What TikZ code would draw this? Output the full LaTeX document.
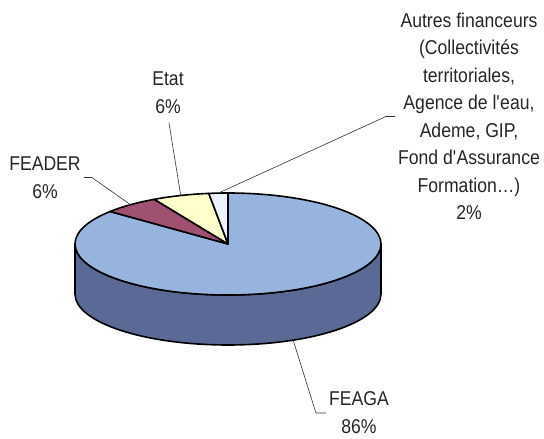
\documentclass[tikz,border=0pt]{standalone}
\usepackage{fontspec}
\setmainfont[FakeStretch=0.88]{Liberation Sans}
\usetikzlibrary{calc}

\definecolor{feagatop}{RGB}{150,180,222}
\definecolor{feagaside}{RGB}{90,105,150}
\definecolor{feadercol}{RGB}{160,80,112}
\definecolor{etatcol}{RGB}{255,255,204}
\definecolor{autrescol}{RGB}{236,245,255}

\begin{document}
\begin{tikzpicture}[line cap=round,line join=round,x=1pt,y=1pt,
    slice/.style={draw=black,line width=1.6pt},
    leader/.style={draw=black!80,line width=0.6pt},
    lbl/.style={align=center,inner sep=3pt,text=black!85,font=\fontsize{20}{28}\selectfont}]
      \useasboundingbox (0,0) rectangle (544,439);

      % Centres of the top face and of the bottom face
      \coordinate (c) at (228,195);
      \coordinate (cb) at (228,145);

      % Side of the pie (front half)
      \draw[slice,fill=feagaside] ($(c)+(180:153 and 51)$)
        arc[start angle=180,end angle=360,x radius=153,y radius=51]
        -- ($(cb)+(0:153 and 51)$)
        arc[start angle=360,end angle=180,x radius=153,y radius=51] -- cycle;

      % Top face slices (FEAGA 86%, FEADER 6%, Etat 6%, Autres 2%)
      \draw[slice,fill=feagatop] (c) -- ($(c)+(140.4:153 and 51)$)
        arc[start angle=140.4,end angle=450,x radius=153,y radius=51] -- cycle;
      \draw[slice,fill=feadercol] (c) -- ($(c)+(118.8:153 and 51)$)
        arc[start angle=118.8,end angle=140.4,x radius=153,y radius=51] -- cycle;
      \draw[slice,fill=etatcol] (c) -- ($(c)+(97.2:153 and 51)$)
        arc[start angle=97.2,end angle=118.8,x radius=153,y radius=51] -- cycle;
      \draw[slice,fill=autrescol] (c) -- ($(c)+(90:153 and 51)$)
        arc[start angle=90,end angle=97.2,x radius=153,y radius=51] -- cycle;

      % Points where the leaders touch the pie
      \coordinate (feagapt) at ($(cb)+(295.2:153 and 51)$);
      \coordinate (feaderpt) at ($(c)+(129.6:153 and 51)$);
      \coordinate (etatpt) at ($(c)+(108:153 and 51)$);
      \coordinate (autrespt) at ($(c)+(93.6:153 and 51)$);

      % Labels
      \node[lbl] (feaga) at (359,26) {FEAGA\\86\%};
      \node[lbl] (feader) at (45,261.5) {FEADER\\6\%};
      \node[lbl] (etat) at (168,346.5) {Etat\\6\%};
      \node[lbl,font=\fontsize{20}{27.5}\selectfont] (autres) at (469,322.5)
        {Autres financeurs\\(Collectivités\\territoriales,\\Agence de l\textquotesingle eau,\\Ademe, GIP,\\Fond d\textquotesingle Assurance\\Formation…)\\2\%};

      % Leader lines
      \draw[leader] (feaga.west) -- ++(-10,0) -- (feagapt);
      \draw[leader] (feader.east) -- ++(8,0) -- (feaderpt);
      \draw[leader,shorten <=6pt] (etat.south) -- (etatpt);
      \draw[leader] (autres.west) -- ++(-9,0) -- (autrespt);
\end{tikzpicture}
\end{document}
